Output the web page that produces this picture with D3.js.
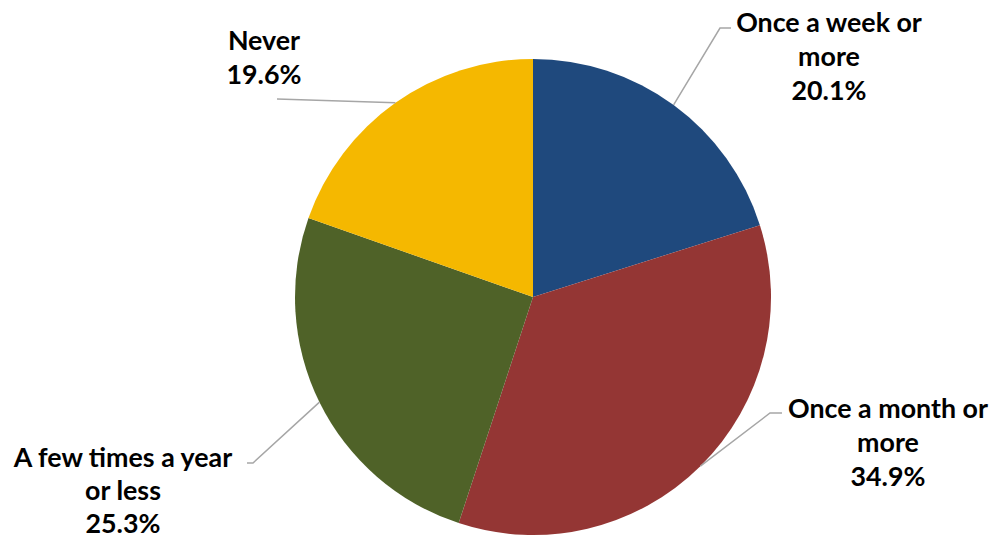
<!DOCTYPE html>
<html><head><meta charset="utf-8">
<script src="https://cdn.jsdelivr.net/npm/d3@7"></script>
<style>body{margin:0;background:#fff}svg{display:block}</style>
</head><body>
<svg id="c" width="994" height="539"></svg>
<script>
const categories = ["Once a week or more", "Once a month or more", "A few times a year or less", "Never"];
const values = [20.1, 34.9, 25.3, 19.6];
const labelLines = [["Once a week or", "more", "20.1%"], ["Once a month or", "more", "34.9%"], ["A few times a year", "or less", "25.3%"], ["Never", "19.6%"]];
const colors = ["#1F497D", "#943634", "#4F6228", "#F5B800"];

// layout
const cx = 533, cy = 297, R = 238;
const labelPos = [
  {x: 829, y: 32, anchor: "middle", elbow: [[720, 28], [731, 28]]},
  {x: 888, y: 418, anchor: "middle", elbow: [[770, 413], [782, 413]]},
  {x: 123, y: 467, anchor: "middle", elbow: [[253, 463], [247, 463]], lh: 33},
  {x: 264, y: 50, anchor: "middle", elbow: [[277, 99]]}
];
const lineH = 34;
const svg = d3.select("#c");
const pie = d3.pie().sort(null).value(d => d)(values);
const arc = d3.arc().innerRadius(0).outerRadius(R);
const g = svg.append("g").attr("transform", `translate(${cx},${cy})`);
g.selectAll("path").data(pie).join("path")
  .attr("d", arc).attr("fill", (d, i) => colors[i]);

pie.forEach((d, i) => {
  const a = (d.startAngle + d.endAngle) / 2;
  const p0 = [cx + R * Math.sin(a), cy - R * Math.cos(a)];
  const pts = [p0, ...labelPos[i].elbow];
  svg.append("path").attr("d", d3.line()(pts)).attr("fill", "none")
    .attr("stroke", "#A6A6A6").attr("stroke-width", 1.5);
  const t = svg.append("text").attr("x", labelPos[i].x).attr("y", labelPos[i].y)
    .attr("text-anchor", labelPos[i].anchor)
    .attr("font-family", "Lato, 'Open Sans', sans-serif").attr("font-weight", "bold")
    .attr("font-size", 26.8).attr("fill", "#000");
  const lh = labelPos[i].lh || lineH;
  labelLines[i].forEach((ln, j) => {
    t.append("tspan").attr("x", labelPos[i].x).attr("dy", j === 0 ? 0 : lh).text(ln);
  });
});
</script>
</body></html>
